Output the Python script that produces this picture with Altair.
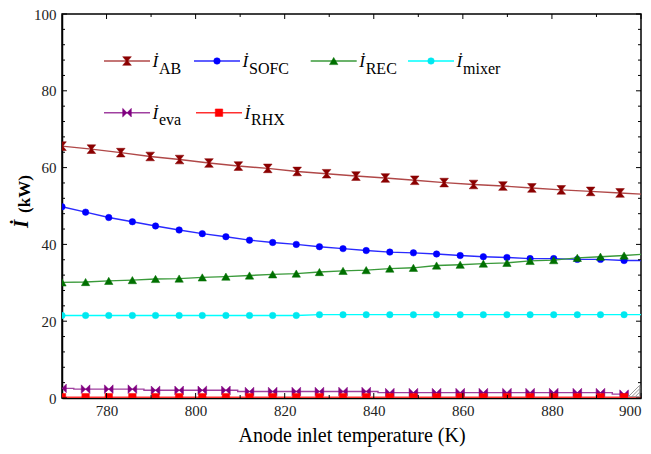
import altair as alt
import pandas as pd

# ---------------- data ----------------
T_ab = [770, 776.6, 783.2, 789.8, 796.4, 803.0, 809.6, 816.2, 822.8, 829.4,
        836.0, 842.6, 849.2, 855.8, 862.4, 869.0, 875.5, 882.1, 888.7, 895.3, 900]
I_ab = [65.6, 64.8, 63.9, 62.9, 62.1, 61.2, 60.4, 59.8, 59.0, 58.4,
        57.8, 57.3, 56.7, 56.1, 55.6, 55.2, 54.7, 54.2, 53.8, 53.4, 53.1]

T_main = [770, 775.3, 780.5, 785.8, 791.0, 796.3, 801.5, 806.8, 812.1, 817.3,
          822.6, 827.8, 833.1, 838.3, 843.6, 848.9, 854.1, 859.4, 864.6, 869.9,
          875.1, 880.4, 885.7, 890.9, 896.2, 900]
I_sofc = [49.8, 48.4, 47.0, 45.9, 44.8, 43.75, 42.8, 42.0, 41.1, 40.5,
          40.0, 39.4, 38.9, 38.4, 38.0, 37.8, 37.5, 37.1, 36.8, 36.6,
          36.3, 36.3, 36.1, 36.1, 35.8, 35.8]
I_rec = [30.1, 30.2, 30.5, 30.7, 31.0, 31.1, 31.4, 31.6, 31.9, 32.2,
         32.4, 32.8, 33.1, 33.3, 33.7, 33.9, 34.5, 34.7, 35.0, 35.2,
         35.7, 35.9, 36.5, 36.8, 37.1, 37.4]
I_mixer = [21.5, 21.5, 21.5, 21.5, 21.5, 21.5, 21.5, 21.5, 21.5, 21.5,
           21.5, 21.7, 21.7, 21.7, 21.7, 21.7, 21.7, 21.7, 21.7, 21.7,
           21.7, 21.7, 21.7, 21.7, 21.7, 21.7]
I_eva = [2.5, 2.3, 2.3, 2.3, 2.0, 2.0, 2.0, 2.0, 1.7, 1.7,
         1.7, 1.7, 1.7, 1.7, 1.4, 1.4, 1.4, 1.4, 1.4, 1.4,
         1.4, 1.4, 1.4, 1.4, 1.0]
I_rhx = [0.2] * 26

series_keys = ["AB", "SOFC", "REC", "mixer", "eva", "RHX"]

y_major = [0, 20, 40, 60, 80, 100]
y_minor = [4, 8, 12, 16, 24, 28, 32, 36, 44, 48, 52, 56, 64, 68, 72, 76, 84, 88, 92, 96]
x_major = [780, 800, 820, 840, 860, 880, 900]
x_minor = [790, 810, 830, 850, 870, 890]

# ---------------- styling ----------------
W, H = 579, 384
FONT = "Liberation Serif"
xs = alt.Scale(domain=[770, 900], nice=False, zero=False)
ys = alt.Scale(domain=[0, 100], nice=False, zero=False)

xaxis = alt.Axis(
    values=x_major, ticks=False, grid=False, labelFont=FONT, labelFontSize=15,
    labelColor="#222", labelPadding=5, domainColor="black", domainWidth=1.5,
    title="Anode inlet temperature (K)", titleFont=FONT, titleFontSize=20,
    titleFontWeight="normal", titleColor="black", titlePadding=7)
yaxis = alt.Axis(
    values=y_major, ticks=False, grid=False, labelFont=FONT, labelFontSize=15,
    labelColor="#222", labelPadding=6, domainColor="black", domainWidth=1.5,
    title=None)

HOURGLASS = "M-1,-1L1,-1L0.3,-0.15L0.3,0.15L1,1L-1,1L-0.3,0.15L-0.3,-0.15Z"
BOWTIE = "M-1,-1L0,0L-1,1ZM1,-1L0,0L1,1Z"
GRIP = "M1,-1L1,1L-1,1ZM1,-0.4L-0.4,1M1,0.2L0.2,1"

style = {
    "AB":    dict(line="#b04848", mark="#8b0000", shape=HOURGLASS, size=75),
    "SOFC":  dict(line="#2a2aff", mark="#0000ff", shape="circle", size=42),
    "REC":   dict(line="#3a9a3a", mark="#007000", shape="triangle-up", size=70),
    "mixer": dict(line="#00ffff", mark="#00e8f0", shape="circle", size=42),
    "eva":   dict(line="#a040a0", mark="#800080", shape=BOWTIE, size=75),
    "RHX":   dict(line="#ff3030", mark="#ff0000", shape="square", size=56),
}

data = {
    "AB": (T_ab, I_ab),
    "SOFC": (T_main, I_sofc),
    "REC": (T_main, I_rec),
    "mixer": (T_main, I_mixer),
    "eva": (T_main[:len(I_eva)], I_eva),
    "RHX": (T_main, I_rhx),
}

X = lambda f: alt.X(f, scale=xs, axis=xaxis)
Y = lambda f: alt.Y(f, scale=ys, axis=yaxis)

layers = []
for key in series_keys:
    T, I = data[key]
    st = style[key]
    df_line = pd.DataFrame({"T": T, "I": I})
    n_marks = len(I) if key == "eva" else len(I) - 1
    df_pts = pd.DataFrame({"T": T[:n_marks], "I": I[:n_marks]})
    interp = "step" if key == "eva" else "linear"
    layers.append(alt.Chart(df_line).mark_line(
        color=st["line"], strokeWidth=1.4, clip=True, interpolate=interp
    ).encode(x=X("T:Q"), y=Y("I:Q")))
    layers.append(alt.Chart(df_pts).mark_point(
        shape=st["shape"], size=st["size"], filled=True, fill=st["mark"],
        stroke=st["mark"], strokeWidth=0.5, opacity=1, clip=True
    ).encode(x=X("T:Q"), y=Y("I:Q")))

# ---------------- inward ticks ----------------
def yticks(vals, length):
    df = pd.DataFrame({"I": vals})
    left = alt.Chart(df).mark_rule(color="black", strokeWidth=1).encode(
        y=Y("I:Q"), x=alt.value(0), x2=alt.value(length))
    right = alt.Chart(df).mark_rule(color="black", strokeWidth=1).encode(
        y=Y("I:Q"), x=alt.value(W), x2=alt.value(W - length))
    return [left, right]

def xticks(vals, length):
    df = pd.DataFrame({"T": vals})
    bottom = alt.Chart(df).mark_rule(color="black", strokeWidth=1).encode(
        x=X("T:Q"), y=alt.value(H), y2=alt.value(H - length))
    top = alt.Chart(df).mark_rule(color="black", strokeWidth=1).encode(
        x=X("T:Q"), y=alt.value(0), y2=alt.value(length))
    return [bottom, top]

layers += yticks(y_major, 5) + yticks(y_minor, 3) + xticks(x_major, 5) + xticks(x_minor, 3)

one = pd.DataFrame({"a": [0]})

# small grey resize grip in the lower-right corner (as in the reference)
layers.append(alt.Chart(one).mark_point(
    shape=GRIP, size=130, filled=False, stroke="#999", strokeWidth=1, opacity=1).encode(
    x=alt.value(W - 7), y=alt.value(H - 7)))

# ---------------- legend (manual, for subscripts) ----------------
leg_pos = {  # (line start x, row centre y) in plot pixels
    "AB": (42, 47), "SOFC": (132, 47), "REC": (248.7, 47), "mixer": (346, 47),
    "eva": (42, 98.7), "RHX": (134, 98.7),
}
LL = 46
for key in series_keys:
    x0, y0 = leg_pos[key]
    st = style[key]
    layers.append(alt.Chart(one).mark_rule(color=st["line"], strokeWidth=1.4).encode(
        x=alt.value(x0), x2=alt.value(x0 + LL), y=alt.value(y0)))
    layers.append(alt.Chart(one).mark_point(
        shape=st["shape"], size=st["size"], filled=True, fill=st["mark"],
        stroke=st["mark"], strokeWidth=0.5, opacity=1).encode(
        x=alt.value(x0 + LL / 2), y=alt.value(y0)))
    layers.append(alt.Chart(one).mark_text(
        text="İ", font=FONT, fontSize=17, fontStyle="italic", align="left",
        baseline="alphabetic", color="black").encode(
        x=alt.value(x0 + LL + 2.5), y=alt.value(y0 + 6)))
    layers.append(alt.Chart(one).mark_text(
        text=key, font=FONT, fontSize=16, align="left", baseline="alphabetic",
        color="black").encode(
        x=alt.value(x0 + LL + 9), y=alt.value(y0 + 12.5)))

# ---------------- y axis title ----------------
layers.append(alt.Chart(one).mark_text(
    text="İ", font=FONT, fontSize=21, fontStyle="italic", fontWeight="bold", angle=270,
    align="center", baseline="alphabetic", color="black").encode(
    x=alt.value(-34), y=alt.value(210)))
layers.append(alt.Chart(one).mark_text(
    text="(kW)", font=FONT, fontSize=17, fontWeight="bold", angle=270,
    align="center", baseline="alphabetic", color="black").encode(
    x=alt.value(-32), y=alt.value(180)))

chart = alt.layer(*layers).properties(
    width=W, height=H,
    padding={"left": 62, "top": 14, "right": 10, "bottom": 56},
    autosize=alt.AutoSizeParams(type="none"),
    background="white",
).configure_view(stroke="black", strokeWidth=1.5)

chart.save("out.html", embed_options={"renderer": "svg", "actions": False})
